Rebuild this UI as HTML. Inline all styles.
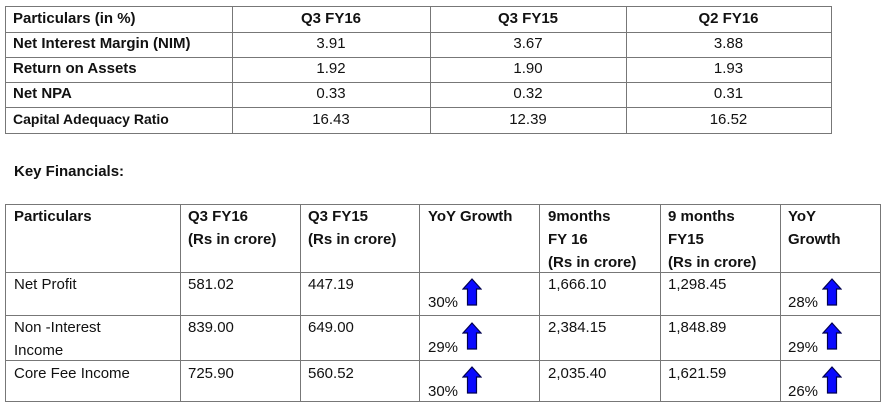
<!DOCTYPE html>
<html><head><meta charset="utf-8"><style>
body{margin:0;width:888px;height:413px;background:#fff;position:relative;overflow:hidden;font-family:"Liberation Sans",sans-serif;color:#111;}
.c{position:absolute;font-size:15px;white-space:nowrap;line-height:23px}
.b{font-weight:bold}
.h{position:absolute;background:#777;height:1px}
.v{position:absolute;background:#777;width:1px}
svg.a{position:absolute}
</style></head><body>
<div>
<div class="h" style="left:5px;top:6px;width:827px"></div>
<div class="h" style="left:5px;top:32px;width:827px"></div>
<div class="h" style="left:5px;top:57px;width:827px"></div>
<div class="h" style="left:5px;top:82px;width:827px"></div>
<div class="h" style="left:5px;top:107px;width:827px"></div>
<div class="h" style="left:5px;top:133px;width:827px"></div>
<div class="v" style="left:5px;top:6px;height:128px"></div>
<div class="v" style="left:232px;top:6px;height:128px"></div>
<div class="v" style="left:430px;top:6px;height:128px"></div>
<div class="v" style="left:626px;top:6px;height:128px"></div>
<div class="v" style="left:831px;top:6px;height:128px"></div>
<div class="c b" style="left:13px;top:7px">Particulars (in %)</div>
<div class="c b" style="left:232px;width:198px;text-align:center;top:7px">Q3 FY16</div>
<div class="c b" style="left:430px;width:196px;text-align:center;top:7px">Q3 FY15</div>
<div class="c b" style="left:626px;width:205px;text-align:center;top:7px">Q2 FY16</div>
<div class="c b" style="left:13px;top:32px">Net Interest Margin (NIM)</div>
<div class="c b" style="left:13px;top:57px">Return on Assets</div>
<div class="c b" style="left:13px;top:82px">Net NPA</div>
<div class="c b" style="left:13px;top:108px;font-size:14px">Capital Adequacy Ratio</div>
<div class="c" style="left:232px;width:198px;text-align:center;top:32px">3.91</div>
<div class="c" style="left:430px;width:196px;text-align:center;top:32px">3.67</div>
<div class="c" style="left:626px;width:205px;text-align:center;top:32px">3.88</div>
<div class="c" style="left:232px;width:198px;text-align:center;top:57px">1.92</div>
<div class="c" style="left:430px;width:196px;text-align:center;top:57px">1.90</div>
<div class="c" style="left:626px;width:205px;text-align:center;top:57px">1.93</div>
<div class="c" style="left:232px;width:198px;text-align:center;top:82px">0.33</div>
<div class="c" style="left:430px;width:196px;text-align:center;top:82px">0.32</div>
<div class="c" style="left:626px;width:205px;text-align:center;top:82px">0.31</div>
<div class="c" style="left:232px;width:198px;text-align:center;top:108px">16.43</div>
<div class="c" style="left:430px;width:196px;text-align:center;top:108px">12.39</div>
<div class="c" style="left:626px;width:205px;text-align:center;top:108px">16.52</div>
</div>
<div class="c b" style="left:14px;top:160px">Key Financials:</div>
<div>
<div class="h" style="left:5px;top:204px;width:876px"></div>
<div class="h" style="left:5px;top:272px;width:876px"></div>
<div class="h" style="left:5px;top:315px;width:876px"></div>
<div class="h" style="left:5px;top:360px;width:876px"></div>
<div class="h" style="left:5px;top:401px;width:876px"></div>
<div class="v" style="left:5px;top:204px;height:198px"></div>
<div class="v" style="left:180px;top:204px;height:198px"></div>
<div class="v" style="left:300px;top:204px;height:198px"></div>
<div class="v" style="left:419px;top:204px;height:198px"></div>
<div class="v" style="left:539px;top:204px;height:198px"></div>
<div class="v" style="left:660px;top:204px;height:198px"></div>
<div class="v" style="left:780px;top:204px;height:198px"></div>
<div class="v" style="left:880px;top:204px;height:198px"></div>
<div class="c b" style="left:14px;top:205px">Particulars</div>
<div class="c b" style="left:188px;top:205px">Q3 FY16<br>(Rs in crore)</div>
<div class="c b" style="left:308px;top:205px">Q3 FY15<br>(Rs in crore)</div>
<div class="c b" style="left:428px;top:205px">YoY Growth</div>
<div class="c b" style="left:548px;top:205px">9months<br>FY 16<br>(Rs in crore)</div>
<div class="c b" style="left:668px;top:205px">9 months<br>FY15<br>(Rs in crore)</div>
<div class="c b" style="left:788px;top:205px">YoY<br>Growth</div>
<div class="c" style="left:14px;top:273px">Net Profit</div>
<div class="c" style="left:14px;top:316px">Non -Interest<br>Income</div>
<div class="c" style="left:14px;top:362px">Core Fee Income</div>
<div class="c" style="left:188px;top:273px">581.02</div>
<div class="c" style="left:308px;top:273px">447.19</div>
<div class="c" style="left:548px;top:273px">1,666.10</div>
<div class="c" style="left:668px;top:273px">1,298.45</div>
<div class="c" style="left:188px;top:316px">839.00</div>
<div class="c" style="left:308px;top:316px">649.00</div>
<div class="c" style="left:548px;top:316px">2,384.15</div>
<div class="c" style="left:668px;top:316px">1,848.89</div>
<div class="c" style="left:188px;top:362px">725.90</div>
<div class="c" style="left:308px;top:362px">560.52</div>
<div class="c" style="left:548px;top:362px">2,035.40</div>
<div class="c" style="left:668px;top:362px">1,621.59</div>
<div class="c" style="left:428px;top:291px">30%</div>
<div class="c" style="left:428px;top:336px">29%</div>
<div class="c" style="left:428px;top:380px">30%</div>
<div class="c" style="left:788px;top:291px">28%</div>
<div class="c" style="left:788px;top:336px">29%</div>
<div class="c" style="left:788px;top:380px">26%</div>
</div>
<svg width="0" height="0" style="position:absolute"><defs><symbol id="ar" viewBox="0 0 20 28"><path d="M10 1 L19 11 L14.5 11 L14.5 27 L5.5 27 L5.5 11 L1 11 Z" fill="#0a0aff" stroke="#000050" stroke-width="1.2"/></symbol></defs></svg>
<svg class="a" style="left:462px;top:278px" width="20" height="28"><use href="#ar"/></svg>
<svg class="a" style="left:462px;top:322px" width="20" height="28"><use href="#ar"/></svg>
<svg class="a" style="left:462px;top:366px" width="20" height="28"><use href="#ar"/></svg>
<svg class="a" style="left:822px;top:278px" width="20" height="28"><use href="#ar"/></svg>
<svg class="a" style="left:822px;top:322px" width="20" height="28"><use href="#ar"/></svg>
<svg class="a" style="left:822px;top:366px" width="20" height="28"><use href="#ar"/></svg>
</body></html>
